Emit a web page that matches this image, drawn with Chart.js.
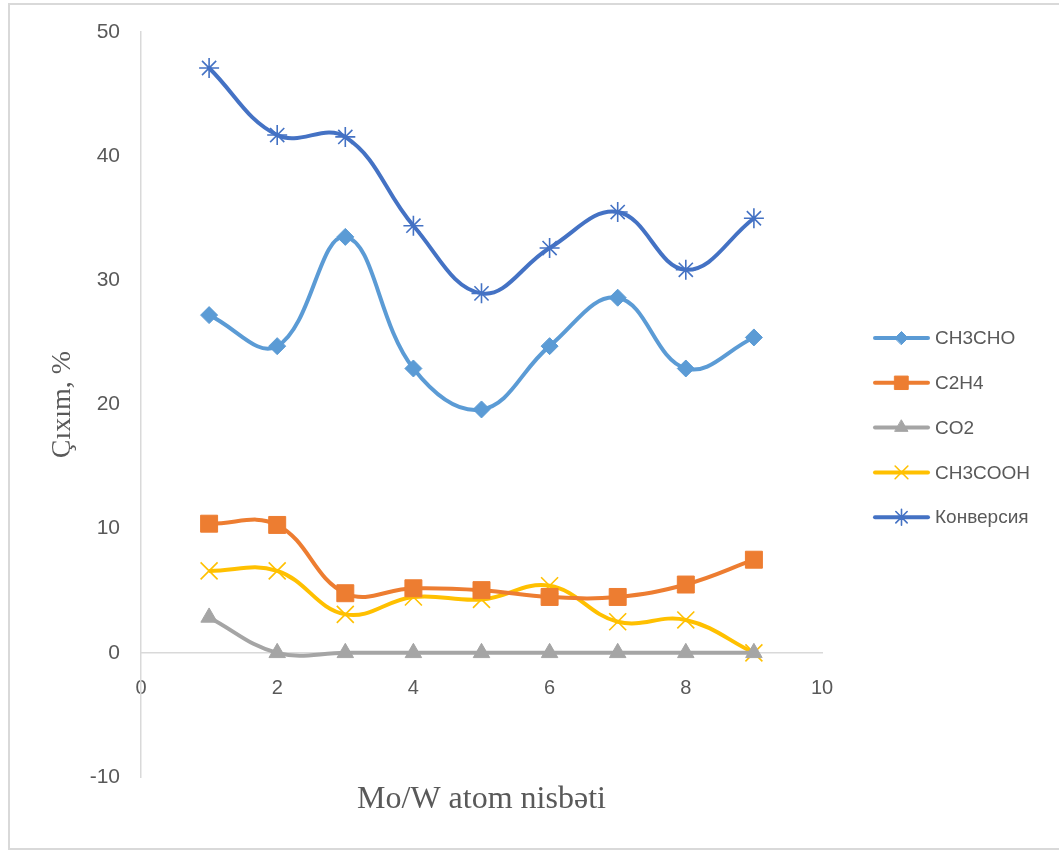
<!DOCTYPE html>
<html>
<head>
<meta charset="utf-8">
<script src="https://cdn.jsdelivr.net/npm/chart.js@4/dist/chart.umd.min.js"></script>
<style>
  html, body { margin: 0; padding: 0; background: #fff; }
  #wrap { width: 1059px; height: 850px; position: relative; }
</style>
</head>
<body>
<div id="wrap"><canvas id="chart" width="1059" height="850"></canvas></div>
<script>
/* ================== DATA ================== */
const ratios = [1, 2, 3, 4, 5, 6, 7, 8, 9];
const ch3cho = [27.2, 24.7, 33.5, 22.9, 19.6, 24.7, 28.6, 22.9, 25.4];
const c2h4 = [10.4, 10.3, 4.8, 5.2, 5.05, 4.5, 4.5, 5.5, 7.5];
const co2 = [2.85, 0, 0, 0, 0, 0, 0, 0, 0];
const ch3cooh = [6.6, 6.6, 3.1, 4.5, 4.3, 5.4, 2.5, 2.65, 0];
const konversiya = [47.1, 41.7, 41.55, 34.4, 28.95, 32.6, 35.5, 30.85, 35.0];

const seriesNames = ["CH3CHO", "C2H4", "CO2", "CH3COOH", "Конверсия"];
const seriesValues = [ch3cho, c2h4, co2, ch3cooh, konversiya];
const seriesColors = ["#5B9BD5", "#ED7D31", "#A5A5A5", "#FFC000", "#4472C4"];

const xTitle = "Mo/W atom nisbəti";
const yTitle = "Çıxım, %";

/* ================== STYLE ================== */
const markers = [
  { style: "rectRot", radius: 8.5, border: 1, legendRadius: 6.5 },
  { style: "rect", radius: 12, border: 1, legendRadius: 9.5 },
  { style: "triangle", radius: 9.5, border: 1, legendRadius: 7.5 },
  { style: "crossRot", radius: 12, border: 1.6, legendRadius: 9 },
  { style: "star", radius: 10, border: 1.6, legendRadius: 8 }
];
const tickGray = "#595959";
const axisGray = "#D9D9D9";

const datasets = seriesNames.map((name, i) => ({
  label: name,
  data: ratios.map((x, j) => ({ x, y: seriesValues[i][j] })),
  borderColor: seriesColors[i],
  backgroundColor: seriesColors[i],
  borderWidth: 4,
  showLine: true,
  tension: 0.4,
  pointStyle: markers[i].style,
  pointRadius: markers[i].radius,
  pointHoverRadius: markers[i].radius,
  pointBorderWidth: markers[i].border,
  pointBackgroundColor: seriesColors[i],
  pointBorderColor: seriesColors[i]
}));

/* ================== PLUGINS ================== */
// outer frame of the chart
const framePlugin = {
  id: "frame",
  beforeDraw(chart) {
    const ctx = chart.ctx;
    ctx.save();
    ctx.fillStyle = "#fff";
    ctx.fillRect(0, 0, chart.width, chart.height);
    ctx.strokeStyle = axisGray;
    ctx.lineWidth = 2;
    ctx.strokeRect(9, 4, chart.width + 10, chart.height - 5);
    ctx.restore();
  }
};

// legend on the right: line with marker in the middle
const sideLegend = {
  id: "sideLegend",
  afterDraw(chart) {
    const ctx = chart.ctx;
    const x0 = 875, x1 = 928, top = 338, gap = 44.8;
    ctx.save();
    seriesNames.forEach((name, i) => {
      const y = top + i * gap;
      ctx.strokeStyle = seriesColors[i];
      ctx.fillStyle = seriesColors[i];
      ctx.lineWidth = 4;
      ctx.lineCap = "round";
      ctx.beginPath();
      ctx.moveTo(x0, y);
      ctx.lineTo(x1, y);
      ctx.stroke();
      ctx.lineWidth = markers[i].border;
      Chart.helpers.drawPoint(ctx, {
        pointStyle: markers[i].style,
        radius: markers[i].legendRadius,
        rotation: 0,
        borderWidth: markers[i].border
      }, (x0 + x1) / 2, y);
      ctx.fillStyle = tickGray;
      ctx.font = "19px 'Liberation Sans', Arial, sans-serif";
      ctx.textBaseline = "middle";
      ctx.textAlign = "left";
      ctx.fillText(name, 935, y + 1);
    });
    ctx.restore();
  }
};

/* ================== CHART ================== */
new Chart(document.getElementById("chart"), {
  type: "scatter",
  data: { datasets },
  options: {
    responsive: false,
    animation: false,
    layout: { padding: { left: 20, right: 237, top: 32, bottom: 0 } },
    plugins: {
      legend: { display: false },
      tooltip: { enabled: false }
    },
    scales: {
      x: {
        type: "linear",
        position: { y: 0 },
        min: 0,
        max: 10,
        grid: { display: false },
        border: { display: true, color: axisGray, width: 1.5 },
        ticks: {
          stepSize: 2,
          padding: 16,
          color: tickGray,
          font: { family: "'Liberation Sans', Arial, sans-serif", size: 20 }
        }
      },
      xTitle: {
        type: "linear",
        axis: "x",
        position: "bottom",
        min: 0,
        max: 10,
        grid: { display: false },
        border: { display: false },
        ticks: { display: false },
        title: {
          display: true,
          text: xTitle,
          color: tickGray,
          padding: { top: 0, bottom: 31 },
          font: { family: "'Liberation Serif', 'Times New Roman', serif", size: 32 }
        },
        afterFit(scale) { scale.height = 73; }
      },
      y: {
        type: "linear",
        position: "left",
        min: -10,
        max: 50,
        grid: { display: false },
        border: { display: true, color: axisGray, width: 1.5 },
        ticks: {
          stepSize: 10,
          padding: 13,
          color: tickGray,
          font: { family: "'Liberation Sans', Arial, sans-serif", size: 21 }
        },
        title: {
          display: true,
          text: yTitle,
          color: tickGray,
          padding: { top: 26, bottom: 0 },
          font: { family: "'Liberation Serif', 'Times New Roman', serif", size: 28 }
        },
        afterFit(scale) { scale.width = 121; }
      }
    }
  },
  plugins: [framePlugin, sideLegend]
});
</script>
</body>
</html>
